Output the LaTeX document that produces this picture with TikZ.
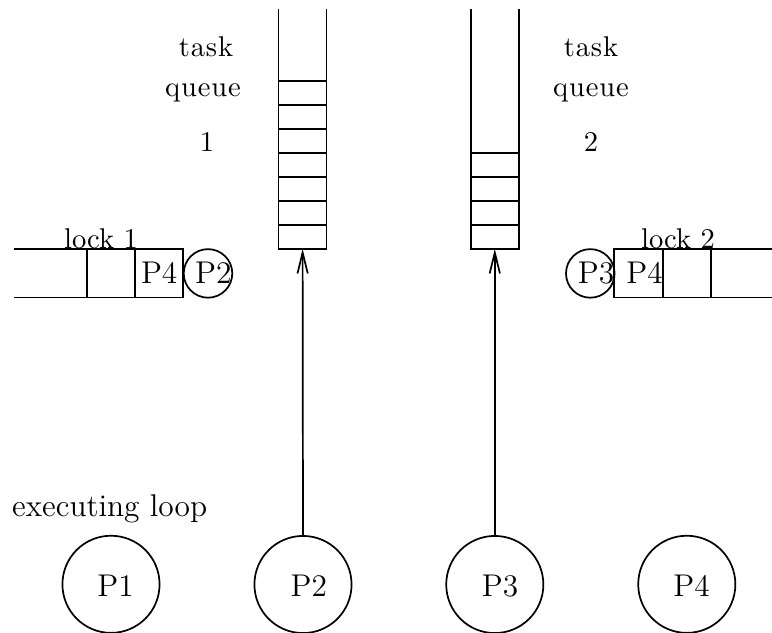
\documentclass[tikz,border=0pt]{standalone}
\usepackage{fontspec}
\usetikzlibrary{arrows.meta}
\newfontfamily\tqfont{lmroman10-regular.otf}[LetterSpace=3]
\begin{document}
\begin{tikzpicture}[x=0.35pt,y=-0.35pt,line width=0.6pt,
  lbl/.style={inner sep=0pt,anchor=base},
  plbl/.style={lbl,font=\fontsize{11}{13}\selectfont},
  tq/.style={lbl,font=\tqfont\fontsize{10}{12}\selectfont},
  lk/.style={lbl,font=\fontsize{10}{12}\selectfont},
  bigproc/.style={draw,circle,inner sep=0pt,minimum size=34pt},
  smallproc/.style={draw,circle,inner sep=0pt,minimum size=17pt},
  arr/.style={-{Straight Barb[length=7.3pt,width=3.6pt]}}]
\useasboundingbox (0,0) rectangle (772,633);

% task queue 1
\draw (278.5,9) -- (278.5,249) -- (326.5,249) -- (326.5,9);
\foreach \k in {0,...,6} \draw (278.5,{80.7+24*\k}) -- (326.5,{80.7+24*\k});
\coordinate (q1b) at (302.6,249);
\node[tq] (t1a) at (206,56.5) {task};
\node[tq] (t1b) at (203,96.5) {queue};
\node[tq] (t1c) at (207,151) {1};

% task queue 2
\draw (470.7,9) -- (470.7,249) -- (518.7,249) -- (518.7,9);
\foreach \k in {0,...,3} \draw (470.7,{153.3+24*\k}) -- (518.7,{153.3+24*\k});
\coordinate (q2b) at (494.8,249);
\node[tq] (t2a) at (591,56.5) {task};
\node[tq] (t2b) at (591,96.5) {queue};
\node[tq] (t2c) at (591,151) {2};

% lock 1
\draw (14,249.3) -- (182.7,249.3) -- (182.7,297.5) -- (14,297.5);
\draw (87.3,249.3) -- (87.3,297.5);
\draw (135,249.3) -- (135,297.5);
\node[lk] (l1) at (101,248.5) {lock 1};
\node[plbl] (l1p4) at (159.2,283.3) {P4};
\node[smallproc] (s2) at (208,273.4) {};
\node[plbl] (s2t) at (213.3,283.3) {P2};

% lock 2
\draw (772,249.3) -- (614,249.3) -- (614,297.5) -- (772,297.5);
\draw (662.7,249.3) -- (662.7,297.5);
\draw (710.7,249.3) -- (710.7,297.5);
\node[lk] (l2) at (678,248.5) {lock 2};
\node[plbl] (l2p4) at (644.5,283.3) {P4};
\node[smallproc] (s3) at (590.3,273.4) {};
\node[plbl] (s3t) at (596,283.3) {P3};

% processors
\node[plbl] (exec) at (109.7,516.7) {executing loop};
\node[bigproc] (p1) at (111,584.3) {};
\node[bigproc] (p2) at (303,584.5) {};
\node[bigproc] (p3) at (494.8,584.5) {};
\node[bigproc] (p4) at (686.8,584.3) {};
\node[plbl] (p1t) at (115.5,596.7) {P1};
\node[plbl] (p2t) at (308.8,596.7) {P2};
\node[plbl] (p3t) at (500,596.7) {P3};
\node[plbl] (p4t) at (691.5,596.7) {P4};

% connectors
\draw[arr] (p2.north) -- (q1b);
\draw[arr] (p3.north) -- (q2b);
\end{tikzpicture}
\end{document}
